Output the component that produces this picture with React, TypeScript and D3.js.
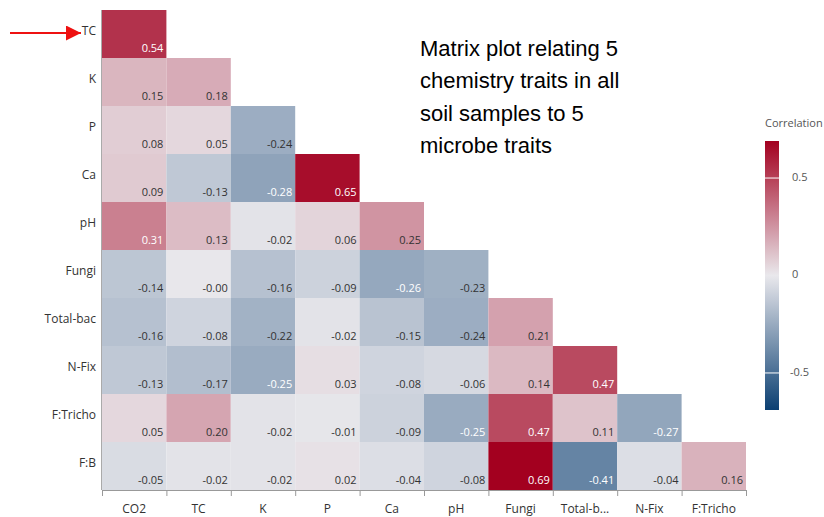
import { useMemo } from "react";
import * as d3 from "d3";

const width = 824;
const height = 517;

// columns (x) and rows (y) of the lower-triangle matrix
const colNames = ["CO2", "TC", "K", "P", "Ca", "pH", "Fungi", "Total-bac", "N-Fix", "F:Tricho"];
const colLabels = ["CO2", "TC", "K", "P", "Ca", "pH", "Fungi", "Total-b...", "N-Fix", "F:Tricho"];
const rowNames = ["TC", "K", "P", "Ca", "pH", "Fungi", "Total-bac", "N-Fix", "F:Tricho", "F:B"];

const rowTC = [0.54];
const rowK = [0.15, 0.18];
const rowP = [0.08, 0.05, -0.24];
const rowCa = [0.09, -0.13, -0.28, 0.65];
const rowPH = [0.31, 0.13, -0.02, 0.06, 0.25];
const rowFungi = [-0.14, -0.004, -0.16, -0.09, -0.26, -0.23];
const rowTotalBac = [-0.16, -0.08, -0.22, -0.02, -0.15, -0.24, 0.21];
const rowNFix = [-0.13, -0.17, -0.25, 0.03, -0.08, -0.06, 0.14, 0.47];
const rowFTricho = [0.05, 0.2, -0.02, -0.01, -0.09, -0.25, 0.47, 0.11, -0.27];
const rowFB = [-0.05, -0.02, -0.02, 0.02, -0.04, -0.08, 0.69, -0.41, -0.04, 0.16];

const rowValues = [rowTC, rowK, rowP, rowCa, rowPH, rowFungi, rowTotalBac, rowNFix, rowFTricho, rowFB];

const legendTicks = [0.5, 0, -0.5];
const titleLines = [
  "Matrix plot relating 5",
  "chemistry traits in all",
  "soil samples to 5",
  "microbe traits",
];

const plotLeft = 102;
const plotRight = 746;
const plotTop = 10;
const plotBottom = 490;

const colorMax = 0.69;

const App = () => {
  const xScale = d3.scaleBand<string>().domain(colNames).range([plotLeft, plotRight]);
  const yScale = d3.scaleBand<string>().domain(rowNames).range([plotTop, plotBottom]);

  const color = d3
    .scaleLinear<string>()
    .domain([-colorMax, 0, colorMax])
    .range(["#0b3f72", "#e9e8ec", "#a3001f"]);

  const legendScale = d3.scaleLinear().domain([-colorMax, colorMax]).range([410, 141]);

  const cells = useMemo(
    () =>
      rowValues.flatMap((vals, i) =>
        vals.map((v, j) => ({ row: rowNames[i], col: colNames[j], value: v }))
      ),
    []
  );

  const gradientStops = d3.range(0, 1.0001, 0.05);

  const bw = xScale.bandwidth();
  const bh = yScale.bandwidth();

  return (
    <svg
      width={width}
      height={height}
      style={{ position: "absolute", left: 0, top: 0, fontFamily: "'Open Sans', sans-serif" }}
    >
      <defs>
        <linearGradient id="legend-grad" x1="0" y1="1" x2="0" y2="0">
          {gradientStops.map((t) => (
            <stop
              key={t}
              offset={`${t * 100}%`}
              stopColor={color(-colorMax + t * 2 * colorMax)}
            />
          ))}
        </linearGradient>
        <marker id="arrow" viewBox="0 0 10 10" refX="10" refY="5" markerWidth="8" markerHeight="7.5" markerUnits="strokeWidth" orient="auto">
          <path d="M0,0 L10,5 L0,10 Z" fill="#ee1111" />
        </marker>
      </defs>

      {/* cells */}
      <g className="cells">
        {cells.map((d) => (
          <rect
            key={`${d.row}-${d.col}`}
            x={xScale(d.col)}
            y={yScale(d.row)}
            width={bw}
            height={bh}
            fill={color(d.value)}
          />
        ))}
      </g>

      <g className="cell-labels">
        {cells.map((d) => {
          const light = d.value >= 0.3 || d.value <= -0.25;
          return (
            <text
              key={`${d.row}-${d.col}`}
              x={(xScale(d.col) as number) + bw - 3}
              y={(yScale(d.row) as number) + bh - 6}
              textAnchor="end"
              fontSize={11}
              fill={light ? "#ffffff" : "#333333"}
            >
              {d.value.toFixed(2)}
            </text>
          );
        })}
      </g>

      {/* y axis */}
      <line x1={plotLeft - 0.5} x2={plotLeft - 0.5} y1={plotTop} y2={plotBottom} stroke="#aaaaaa" />
      <g className="y-labels">
        {rowNames.map((r) => (
          <text
            key={r}
            x={plotLeft - 6}
            y={(yScale(r) as number) + bh / 2 - 2}
            textAnchor="end"
            dominantBaseline="middle"
            fontSize={12}
            fill="#333333"
          >
            {r}
          </text>
        ))}
      </g>

      {/* x axis */}
      <line x1={plotLeft} x2={plotRight} y1={plotBottom + 0.5} y2={plotBottom + 0.5} stroke="#999999" />
      <g className="x-ticks">
        {[...colNames.map((c) => xScale(c) as number), plotRight].map((x, i) => (
          <line key={i} x1={x + 0.5} x2={x + 0.5} y1={plotBottom} y2={plotBottom + 6} stroke="#999999" />
        ))}
      </g>
      <g className="x-labels">
        {colNames.map((c, i) => (
          <text
            key={c}
            x={(xScale(c) as number) + bw / 2}
            y={plotBottom + 23}
            textAnchor="middle"
            fontSize={12}
            fill="#333333"
          >
            {colLabels[i]}
          </text>
        ))}
      </g>

      {/* legend */}
      <text x={765} y={127} fontSize={11} fill="#555555">
        Correlation
      </text>
      <rect
        x={765}
        y={legendScale(colorMax)}
        width={14}
        height={legendScale(-colorMax) - legendScale(colorMax)}
        fill="url(#legend-grad)"
      />
      {legendTicks.map((t) => (
        <g key={t}>
          {t !== 0 && (
            <line x1={765} x2={779} y1={legendScale(t)} y2={legendScale(t)} stroke="#ffffff" strokeWidth={1} />
          )}
          <text
            x={t < 0 ? 790 : 792}
            y={legendScale(t)}
            dominantBaseline="middle"
            fontSize={11}
            fill="#555555"
          >
            {t}
          </text>
        </g>
      ))}

      {/* annotation */}
      <g className="title" fontFamily="'Liberation Sans', Arial, sans-serif" fontSize={22} fill="#000000">
        {titleLines.map((line, i) => (
          <text key={i} x={420} y={56 + i * 32.3}>
            {line}
          </text>
        ))}
      </g>
      <line x1={10} y1={33} x2={81} y2={33} stroke="#ee1111" strokeWidth={2} markerEnd="url(#arrow)" />
    </svg>
  );
};

export default App;
